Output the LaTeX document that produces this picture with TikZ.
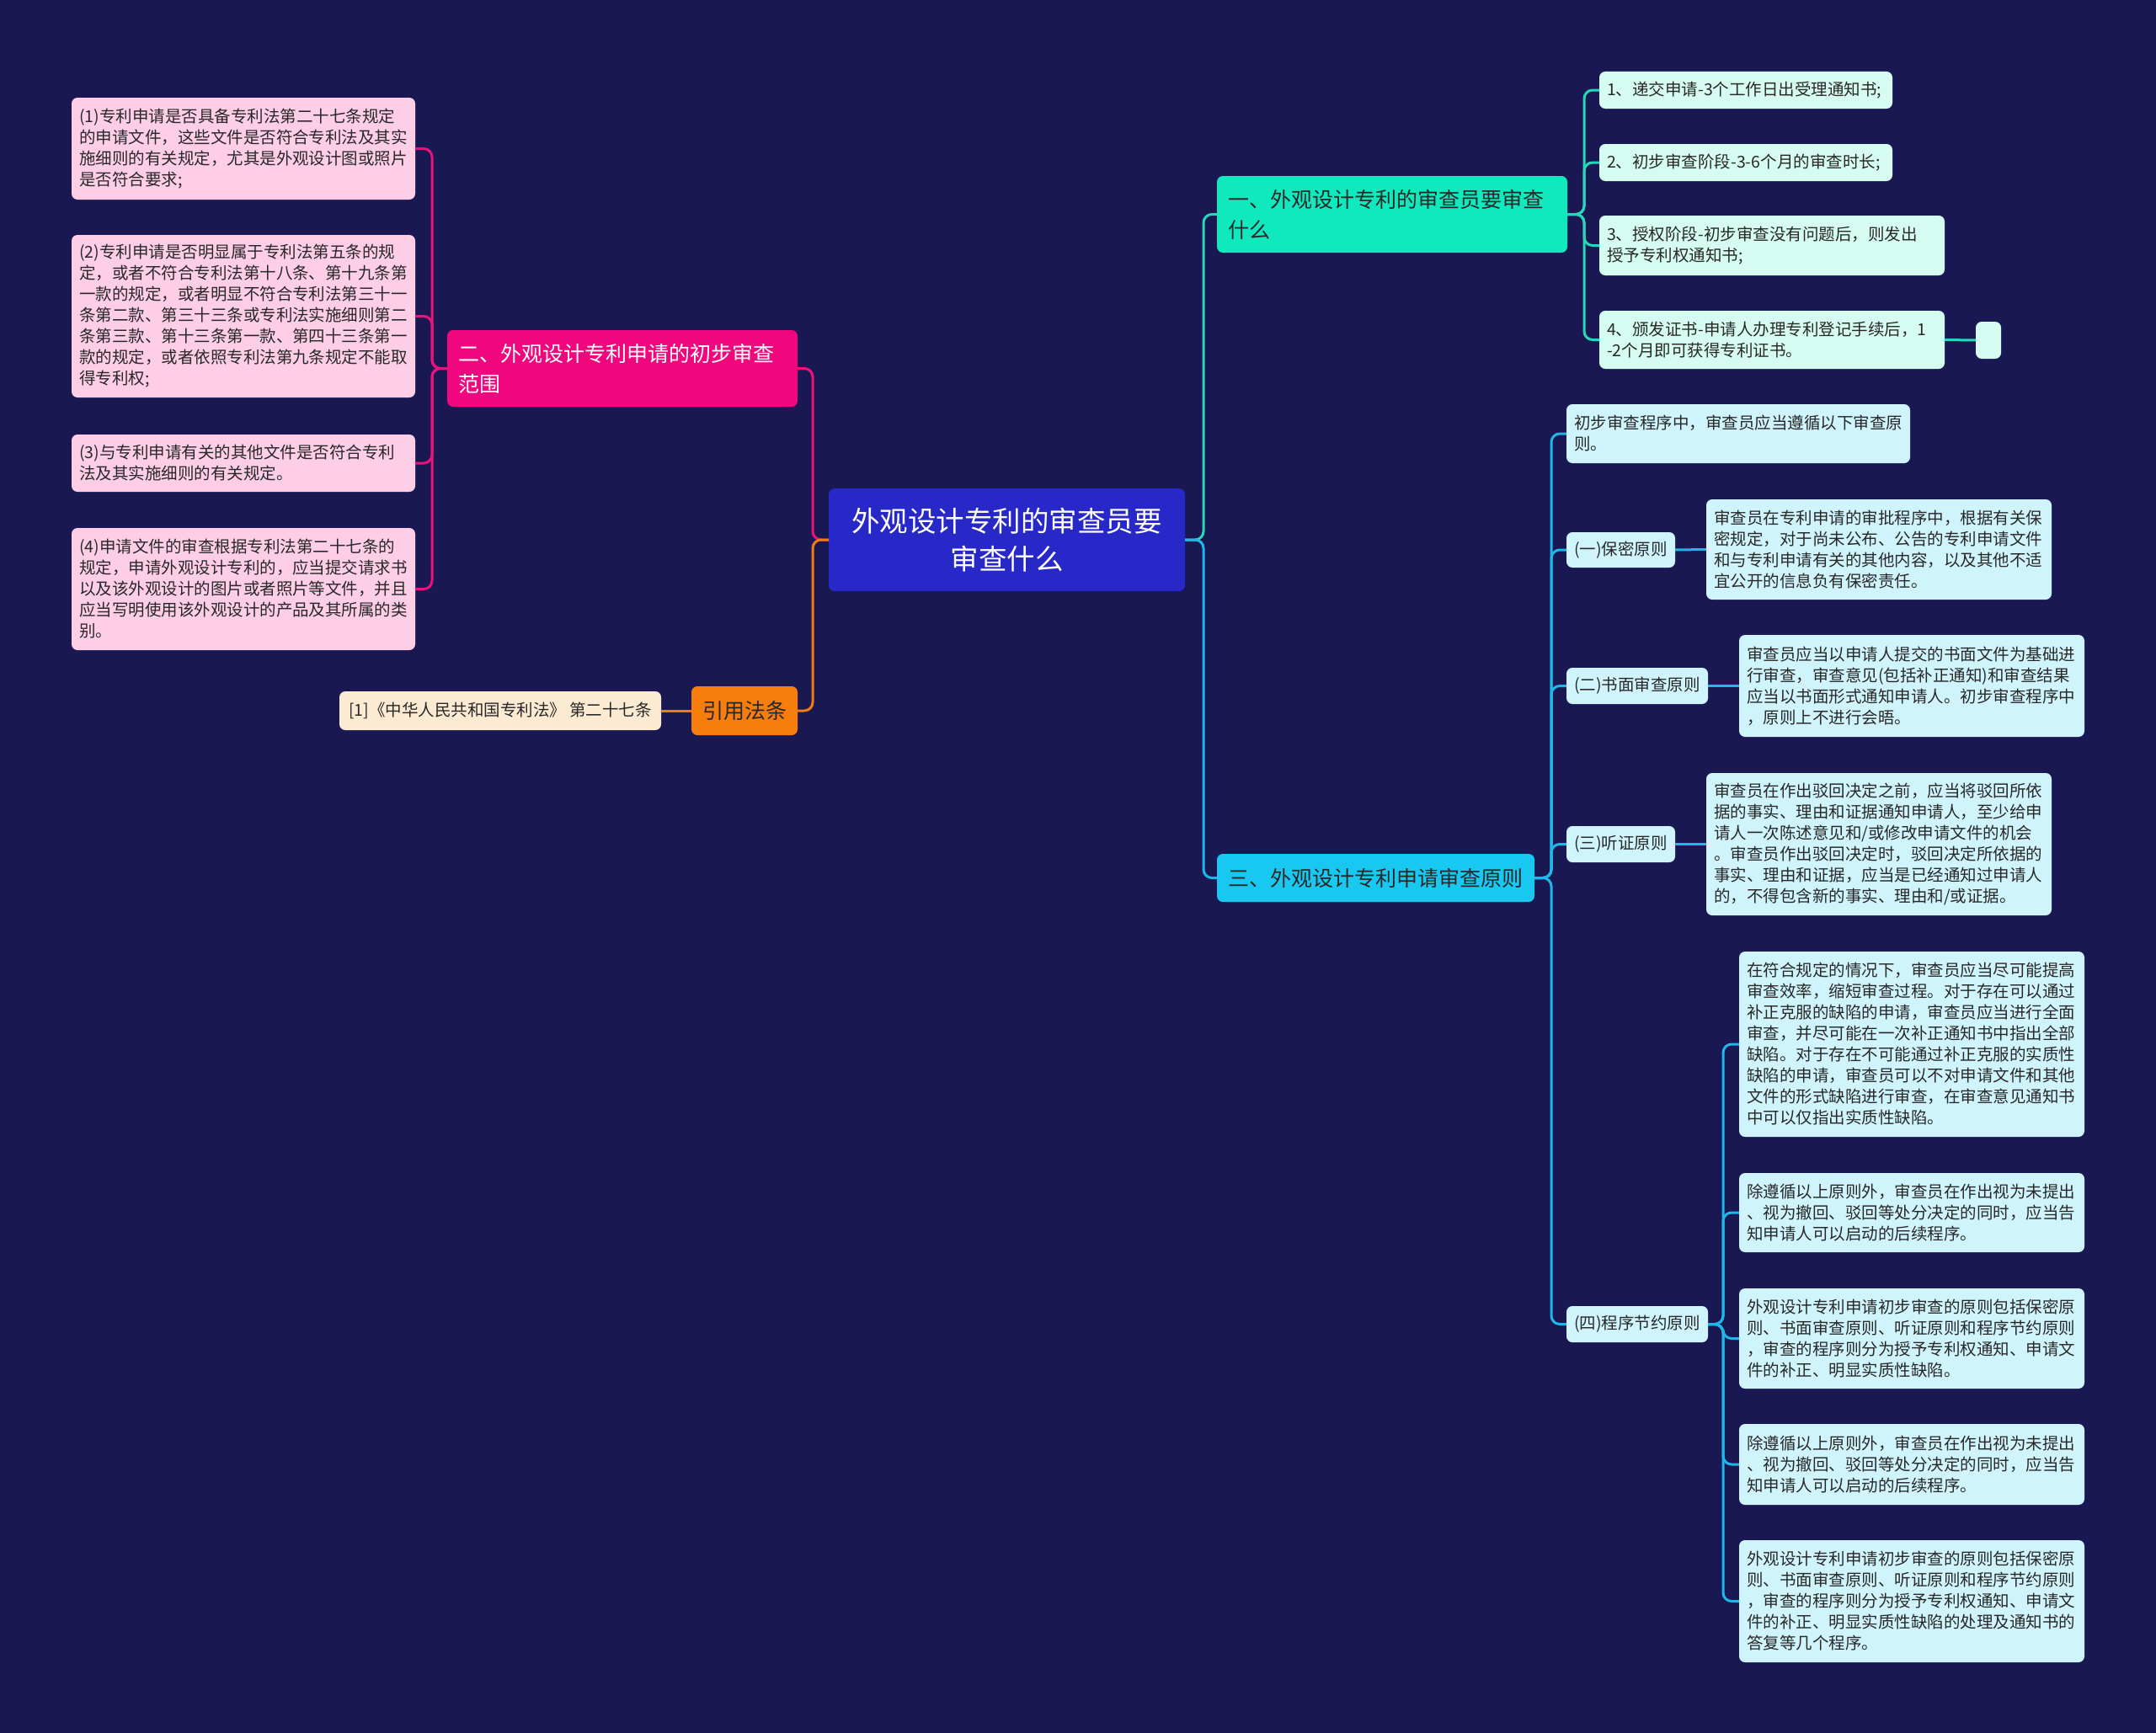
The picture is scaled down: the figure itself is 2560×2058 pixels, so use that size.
\documentclass[tikz,border=0pt]{standalone}
\usepackage{fontspec}
\setmainfont{Noto Sans CJK SC}
\definecolor{bg}{RGB}{26,24,82}
\definecolor{centerC}{RGB}{40,40,200}
\definecolor{magC}{RGB}{240,6,125}
\definecolor{magL}{RGB}{232,20,124}
\definecolor{orC}{RGB}{247,125,12}
\definecolor{orL}{RGB}{240,124,16}
\definecolor{peach}{RGB}{253,234,210}
\definecolor{pinkL}{RGB}{253,206,230}
\definecolor{aquaC}{RGB}{16,233,190}
\definecolor{aquaL}{RGB}{40,214,184}
\definecolor{mint}{RGB}{214,252,242}
\definecolor{cyanC}{RGB}{24,200,240}
\definecolor{cyanL}{RGB}{32,182,232}
\definecolor{ice}{RGB}{208,244,252}
\definecolor{txt}{RGB}{40,40,40}
\tikzset{
  box/.style={anchor=north west, rounded corners=7pt, inner ysep=0pt, outer sep=0pt,
    execute at begin node={\hyphenpenalty=10000\exhyphenpenalty=10000}},
  leaftext/.style={box, inner xsep=9pt, align=left, text=txt, font=\fontsize{19.5}{25}\selectfont},
  pinkleaf/.style={leaftext, fill=pinkL},
  mintleaf/.style={leaftext, fill=mint},
  iceleaf/.style={leaftext, fill=ice},
  topic/.style={box, inner xsep=13pt, align=left, font=\fontsize{25}{36}\selectfont},
  conn/.style={line width=3pt, rounded corners=10pt},
}
\begin{document}
\begin{tikzpicture}[x=1pt,y=-1pt]
\useasboundingbox (0,0) rectangle (2560,2058);
\fill[bg] (0,0) rectangle (2560,2058);

% center
\node[box, fill=centerC, text=white, align=center, minimum width=423pt, minimum height=122pt,
  font=\fontsize{33.5}{45}\selectfont] (root) at (984,580) {外观设计专利的审查员要\\审查什么};

% left branch
\node[topic, fill=magC, text=white, text width=390pt, minimum height=91pt] (b2) at (531,392)
  {二、外观设计专利申请的初步审查\\范围};
\node[box, fill=orC, text=txt, align=center, minimum width=126pt, minimum height=58pt,
  font=\fontsize{25}{30}\selectfont] (cite) at (821,815) {引用法条};
\node[box, fill=peach, text=txt, align=center, minimum width=382pt, minimum height=46pt,
  font=\fontsize{19.5}{25}\selectfont] (law) at (403,821) {[1]《中华人民共和国专利法》 第二十七条};

\node[pinkleaf, text width=390pt, minimum height=121pt] (L1) at (85,116)
  {(1)专利申请是否具备专利法第二十七条规定\\的申请文件，这些文件是否符合专利法及其实\\施细则的有关规定，尤其是外观设计图或照片\\是否符合要求;};
\node[pinkleaf, text width=390pt, minimum height=193pt] (L2) at (85,279)
  {(2)专利申请是否明显属于专利法第五条的规\\定，或者不符合专利法第十八条、第十九条第\\一款的规定，或者明显不符合专利法第三十一\\条第二款、第三十三条或专利法实施细则第二\\条第三款、第十三条第一款、第四十三条第一\\款的规定，或者依照专利法第九条规定不能取\\得专利权;};
\node[pinkleaf, text width=390pt, minimum height=68pt] (L3) at (85,516)
  {(3)与专利申请有关的其他文件是否符合专利\\法及其实施细则的有关规定。};
\node[pinkleaf, text width=390pt, minimum height=145pt] (L4) at (85,627)
  {(4)申请文件的审查根据专利法第二十七条的\\规定，申请外观设计专利的，应当提交请求书\\以及该外观设计的图片或者照片等文件，并且\\应当写明使用该外观设计的产品及其所属的类\\别。};

% right branch one
\node[topic, fill=aquaC, text=txt, text width=390pt, minimum height=91pt] (b1) at (1445,209)
  {一、外观设计专利的审查员要审查\\什么};
\node[mintleaf, text width=330pt, minimum height=44pt] (c1) at (1899,85) {1、递交申请-3个工作日出受理通知书;};
\node[mintleaf, text width=330pt, minimum height=44pt] (c2) at (1899,171) {2、初步审查阶段-3-6个月的审查时长;};
\node[mintleaf, text width=392pt, minimum height=71pt] (c3) at (1899,256) {3、授权阶段-初步审查没有问题后，则发出\\授予专利权通知书;};
\node[mintleaf, text width=392pt, minimum height=69pt] (c4) at (1899,369) {4、颁发证书-申请人办理专利登记手续后，1\\-2个月即可获得专利证书。};
\node[mintleaf, text width=12pt, minimum height=44pt] (c5) at (2346,382) {};

% right branch three
\node[topic, fill=cyanC, text=txt, text width=351pt, minimum height=57pt] (b3) at (1445,1014)
  {三、外观设计专利申请审查原则};
\node[iceleaf, text width=390pt, minimum height=70pt] (p0) at (1860,480) {初步审查程序中，审查员应当遵循以下审查原\\则。};
\node[iceleaf, text width=111pt, minimum height=42pt] (k1) at (1860,632) {(一)保密原则};
\node[iceleaf, text width=150pt, minimum height=43pt] (k2) at (1860,793) {(二)书面审查原则};
\node[iceleaf, text width=111pt, minimum height=43pt] (k3) at (1860,981) {(三)听证原则};
\node[iceleaf, text width=150pt, minimum height=43pt] (k4) at (1860,1551) {(四)程序节约原则};

\node[iceleaf, text width=392pt, minimum height=119pt] (k1c) at (2026,593)
  {审查员在专利申请的审批程序中，根据有关保\\密规定，对于尚未公布、公告的专利申请文件\\和与专利申请有关的其他内容，以及其他不适\\宜公开的信息负有保密责任。};
\node[iceleaf, text width=392pt, minimum height=121pt] (k2c) at (2065,754)
  {审查员应当以申请人提交的书面文件为基础进\\行审查，审查意见(包括补正通知)和审查结果\\应当以书面形式通知申请人。初步审查程序中\\，原则上不进行会晤。};
\node[iceleaf, text width=392pt, minimum height=169pt] (k3c) at (2026,918)
  {审查员在作出驳回决定之前，应当将驳回所依\\据的事实、理由和证据通知申请人，至少给申\\请人一次陈述意见和/或修改申请文件的机会\\。审查员作出驳回决定时，驳回决定所依据的\\事实、理由和证据，应当是已经通知过申请人\\的，不得包含新的事实、理由和/或证据。};

\node[iceleaf, text width=392pt, minimum height=220pt] (q1) at (2065,1130)
  {在符合规定的情况下，审查员应当尽可能提高\\审查效率，缩短审查过程。对于存在可以通过\\补正克服的缺陷的申请，审查员应当进行全面\\审查，并尽可能在一次补正通知书中指出全部\\缺陷。对于存在不可能通过补正克服的实质性\\缺陷的申请，审查员可以不对申请文件和其他\\文件的形式缺陷进行审查，在审查意见通知书\\中可以仅指出实质性缺陷。};
\node[iceleaf, text width=392pt, minimum height=94pt] (q2) at (2065,1393)
  {除遵循以上原则外，审查员在作出视为未提出\\、视为撤回、驳回等处分决定的同时，应当告\\知申请人可以启动的后续程序。};
\node[iceleaf, text width=392pt, minimum height=119pt] (q3) at (2065,1530)
  {外观设计专利申请初步审查的原则包括保密原\\则、书面审查原则、听证原则和程序节约原则\\，审查的程序则分为授予专利权通知、申请文\\件的补正、明显实质性缺陷。};
\node[iceleaf, text width=392pt, minimum height=96pt] (q4) at (2065,1691)
  {除遵循以上原则外，审查员在作出视为未提出\\、视为撤回、驳回等处分决定的同时，应当告\\知申请人可以启动的后续程序。};
\node[iceleaf, text width=392pt, minimum height=145pt] (q5) at (2065,1829)
  {外观设计专利申请初步审查的原则包括保密原\\则、书面审查原则、听证原则和程序节约原则\\，审查的程序则分为授予专利权通知、申请文\\件的补正、明显实质性缺陷的处理及通知书的\\答复等几个程序。};

% connectors left
\draw[conn, magL] (root.west) -- ++(-19,0) |- (b2.east);
\draw[conn, orL] (root.west) -- ++(-19,0) |- (cite.east);
\draw[conn, orL] (cite.west) -- (law.east);
\foreach \n in {L1,L2,L3,L4}
  \draw[conn, magL] (b2.west) -- ++(-18,0) |- (\n.east);

% connectors right
\draw[conn, aquaL] (root.east) -- ++(22,0) |- (b1.west);
\draw[conn, cyanL] (root.east) -- ++(22,0) |- (b3.west);
\foreach \n in {c1,c2,c3,c4}
  \draw[conn, aquaL] (b1.east) -- ++(20,0) |- (\n.west);
\draw[conn, aquaL] (c4.east) -- (c5.west);
\foreach \n in {p0,k1,k2,k3,k4}
  \draw[conn, cyanL] (b3.east) -- ++(20,0) |- (\n.west);
\draw[conn, cyanL] (k1.east) -- (k1c.west);
\draw[conn, cyanL] (k2.east) -- (k2c.west);
\draw[conn, cyanL] (k3.east) -- (k3c.west);
\foreach \n in {q1,q2,q3,q4,q5}
  \draw[conn, cyanL] (k4.east) -- ++(18,0) |- (\n.west);
\end{tikzpicture}
\end{document}
